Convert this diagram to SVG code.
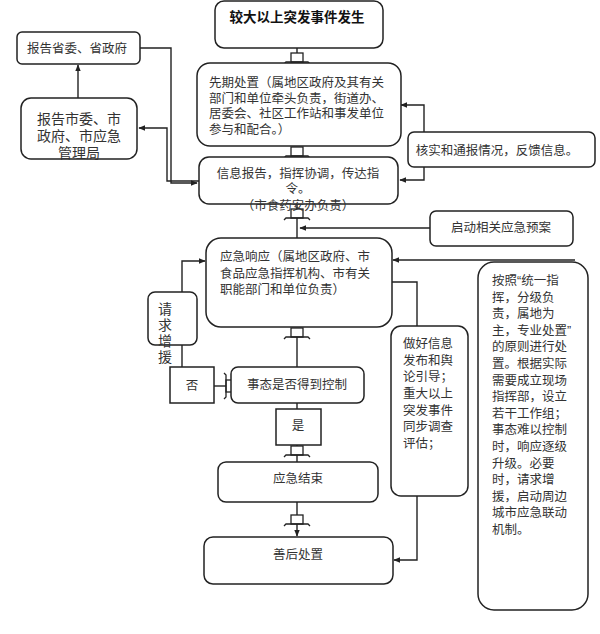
<svg xmlns="http://www.w3.org/2000/svg" width="600" height="634" viewBox="0 0 600 634">
<style>
.box{fill:#fff;stroke:#222;stroke-width:1.5}
.ln{fill:none;stroke:#222;stroke-width:1.4}
text{font-family:"Liberation Sans","Noto Sans CJK SC",sans-serif;font-size:12.5px;fill:#333}
.c{text-anchor:middle}
.big{font-size:14px}
.b{font-weight:bold;font-size:13.5px;fill:#111}
</style>
<defs>
<marker id="ah" viewBox="0 0 10 10" refX="9" refY="5" markerWidth="7" markerHeight="7" markerUnits="userSpaceOnUse" orient="auto">
<path d="M0,1 L10,5 L0,9 Z" fill="#222"/>
</marker>
<g id="blk">
<rect x="-6" y="-9" width="12" height="9" fill="#fff" stroke="#222" stroke-width="1.3"/>
<path d="M-13,2 L-11,0 H11 L13,2" fill="none" stroke="#222" stroke-width="1.3"/>
</g>
</defs>

<g id="connectors">
<path class="ln" d="M297,48 V53"/>
<use href="#blk" transform="translate(297,62)"/>
<use href="#blk" transform="translate(297,156)"/>
<path class="ln" d="M297,204 V209"/>
<use href="#blk" transform="translate(297,218)"/>
<path class="ln" d="M297,218 V238"/>
<path class="ln" d="M430,228 H300" marker-end="url(#ah)"/>
<path class="ln" d="M424,132 V105 H401" marker-end="url(#ah)"/>
<path class="ln" d="M424,167 V180 H400" marker-end="url(#ah)"/>
<path class="ln" d="M78,98 V65" marker-end="url(#ah)"/>
<path class="ln" d="M140,48 H171 V183 H197" marker-end="url(#ah)"/>
<path class="ln" d="M199,181 H167 V128 H139" marker-end="url(#ah)"/>
<use href="#blk" transform="translate(297,337)"/>
<path class="ln" d="M297,337 V367"/>
<path class="ln" d="M214,386 H226"/>
<use href="#blk" transform="translate(226,386) rotate(90)"/>
<path class="ln" d="M182,367 V345"/>
<path class="ln" d="M182,292 V261 H205" marker-end="url(#ah)"/>
<path class="ln" d="M575,260 H393" marker-end="url(#ah)"/>
<path class="ln" d="M392,282 H417 V326"/>
<path class="ln" d="M417,496 V560 H394" marker-end="url(#ah)"/>
<path class="ln" d="M297,403 V409"/>
<path class="ln" d="M297,445 V447"/>
<use href="#blk" transform="translate(297,455)"/>
<path class="ln" d="M297,455 V462"/>
<path class="ln" d="M297,502 V515"/>
<use href="#blk" transform="translate(297,524)"/>
<path class="ln" d="M297,524 V536" marker-end="url(#ah)"/>
</g>

<g id="n-start">
<rect class="box" x="215" y="1" width="168" height="47" rx="9"/>
<text class="c b" x="297" y="22">较大以上突发事件发生</text>
</g>

<g id="n-xianqi">
<rect class="box" x="197" y="63" width="204" height="83" rx="13"/>
<text x="209" y="87">先期处置（属地区政府及其有关</text>
<text x="209" y="103">部门和单位牵头负责，街道办、</text>
<text x="209" y="118">居委会、社区工作站和事发单位</text>
<text x="209" y="134">参与和配合。）</text>
</g>

<g id="n-xinxi">
<rect class="box" x="199" y="157" width="199" height="47" rx="10"/>
<text class="c" x="298" y="178">信息报告，指挥协调，传达指</text>
<text class="c" x="298" y="193">令。</text>
<text class="c" x="298" y="210">（市食药安办负责）</text>
</g>

<g id="n-heshi">
<rect class="box" x="408" y="132" width="187" height="35" rx="6"/>
<text class="c" x="497" y="155">核实和通报情况，反馈信息。</text>
</g>

<g id="n-qidong">
<rect class="box" x="430" y="211" width="143" height="35" rx="6"/>
<text class="c" x="501" y="232">启动相关应急预案</text>
</g>

<g id="n-shengwei">
<rect class="box" x="17" y="32" width="123" height="32" rx="5"/>
<text class="c" x="77" y="53">报告省委、省政府</text>
</g>

<g id="n-shiwei">
<rect class="box" x="21" y="98" width="116" height="61" rx="10"/>
<text class="c big" x="79" y="124">报告市委、市</text>
<text class="c big" x="79" y="141">政府、市应急</text>
<text class="c big" x="79" y="158">管理局</text>
</g>

<g id="n-xiangying">
<rect class="box" x="206" y="238" width="186" height="89" rx="15"/>
<text x="220" y="261">应急响应（属地区政府、市</text>
<text x="220" y="278">食品应急指挥机构、市有关</text>
<text x="220" y="294">职能部门和单位负责）</text>
</g>

<g id="n-qiuyuan">
<rect class="box" x="148" y="292" width="49" height="53" rx="7"/>
<text class="c big" x="165" y="314">请</text>
<text class="c big" x="165" y="330">求</text>
<text class="c big" x="165" y="346">增</text>
<text class="c big" x="165" y="362">援</text>
</g>

<g id="n-fou">
<rect class="box" x="170" y="367" width="44" height="36"/>
<text class="c" x="192" y="390">否</text>
</g>

<g id="n-shitai">
<rect class="box" x="231" y="367" width="133" height="36" rx="7"/>
<text class="c" x="297" y="389">事态是否得到控制</text>
</g>

<g id="n-shi">
<rect class="box" x="276" y="409" width="45" height="36"/>
<text class="c" x="298" y="430">是</text>
</g>

<g id="n-jieshu">
<rect class="box" x="218" y="462" width="160" height="40" rx="8"/>
<text class="c" x="298" y="483">应急结束</text>
</g>

<g id="n-shanhou">
<rect class="box" x="204" y="537" width="189" height="47" rx="9"/>
<text class="c" x="298" y="559">善后处置</text>
</g>

<g id="n-xinxifabu">
<rect class="box" x="391" y="326" width="77" height="170" rx="10"/>
<text x="403" y="348">做好信息</text>
<text x="403" y="365">发布和舆</text>
<text x="403" y="381">论引导；</text>
<text x="403" y="398">重大以上</text>
<text x="403" y="415">突发事件</text>
<text x="403" y="431">同步调查</text>
<text x="403" y="448">评估；</text>
</g>

<g id="n-yuanze">
<rect class="box" x="478" y="262" width="110" height="348" rx="16"/>
<text x="492" y="285">按照“统一指</text>
<text x="492" y="302">挥，分级负</text>
<text x="492" y="318">责，属地为</text>
<text x="492" y="335">主，专业处置”</text>
<text x="492" y="351">的原则进行处</text>
<text x="492" y="368">置。根据实际</text>
<text x="492" y="385">需要成立现场</text>
<text x="492" y="401">指挥部，设立</text>
<text x="492" y="418">若干工作组；</text>
<text x="492" y="434">事态难以控制</text>
<text x="492" y="451">时，响应逐级</text>
<text x="492" y="468">升级。必要</text>
<text x="492" y="484">时，请求增</text>
<text x="492" y="501">援，启动周边</text>
<text x="492" y="517">城市应急联动</text>
<text x="492" y="534">机制。</text>
</g>
</svg>
